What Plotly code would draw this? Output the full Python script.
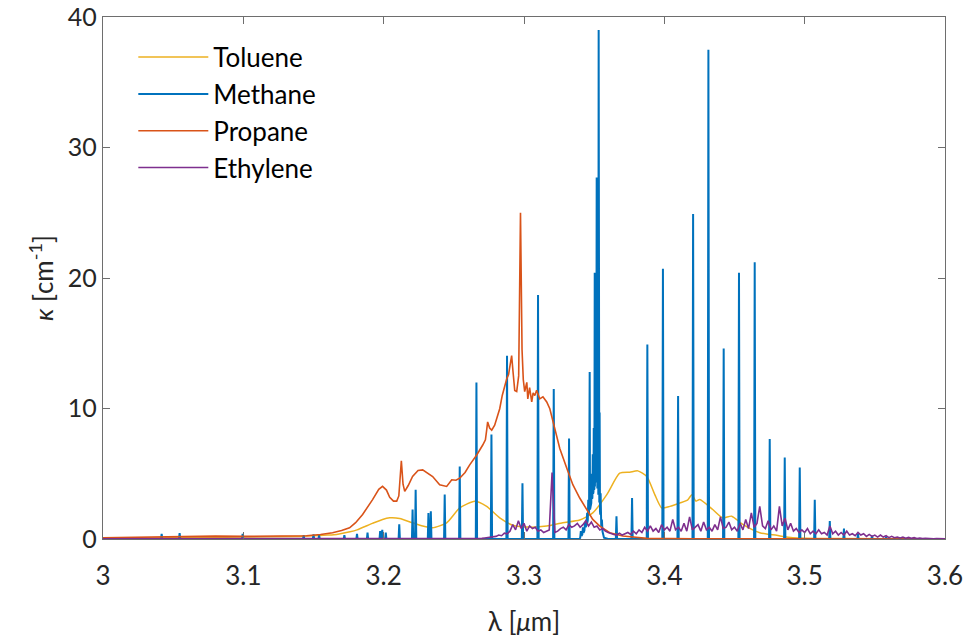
import numpy as np
import plotly.graph_objects as go

# ---------------- absorption spectra (kappa in cm^-1 vs wavelength in um) ----------------

# Toluene: broad, smooth bands
toluene_x = [3.0, 3.05, 3.1, 3.14, 3.16, 3.1665, 3.176, 3.181, 3.192, 3.1992, 3.2043, 3.2114,
             3.2206, 3.2278, 3.2349, 3.2449, 3.2542, 3.2649, 3.2734, 3.2827, 3.292, 3.304,
             3.3162, 3.3276, 3.3397, 3.349, 3.359, 3.3682, 3.3754, 3.3811, 3.3875, 3.3932,
             3.3981, 3.4039, 3.411, 3.4167, 3.4196, 3.4225, 3.4252, 3.4345, 3.4416, 3.448,
             3.4559, 3.468, 3.4801, 3.4915, 3.52, 3.6]
toluene_y = [0.05, 0.1, 0.15, 0.2, 0.3, 0.35, 0.55, 0.7, 1.2, 1.5, 1.62, 1.57,
             1.24, 0.99, 0.86, 1.24, 2.38, 2.89, 2.5, 1.62, 1.06, 0.91,
             0.99, 1.24, 1.45, 2.0, 3.4, 5.04, 5.12, 5.22, 4.79, 3.4,
             2.38, 2.5, 2.76, 3.0, 3.4, 2.9, 3.02, 2.26, 1.62, 1.75,
             1.12, 0.48, 0.28, 0.1, 0.03, 0.0]

# Methane: individual rovibrational lines (centre, peak height)
methane_lines = [
    (3.0418, 0.4), (3.0546, 0.45), (3.0995, 0.4), (3.143, 0.3), (3.150, 0.35),
    (3.154, 0.3), (3.172, 0.3), (3.181, 0.4), (3.1885, 0.5), (3.1975, 0.6),
    (3.199, 0.7), (3.2015, 0.5), (3.2111, 1.12), (3.2206, 2.26), (3.2228, 3.78),
    (3.2319, 2.0), (3.2336, 2.13), (3.2435, 3.4), (3.2542, 5.55), (3.2661, 12.0),
    (3.2768, 8.0), (3.2879, 14.05), (3.2989, 4.28), (3.31, 18.7), (3.3212, 11.5),
    (3.3321, 7.7), (3.3405, 0.6), (3.342, 0.9), (3.3435, 1.3), (3.345, 2.0),
    (3.3458, 3.0), (3.3468, 12.8), (3.3475, 4.2), (3.3483, 5.0), (3.349, 6.5),
    (3.3497, 8.5), (3.3504, 20.4), (3.351, 11.0), (3.3518, 27.7), (3.3525, 16.0),
    (3.3532, 39.0), (3.3539, 9.7), (3.3546, 3.5), (3.3555, 1.5), (3.3659, 1.75),
    (3.377, 3.14), (3.3879, 14.9), (3.399, 20.7), (3.4098, 10.95), (3.4205, 24.9),
    (3.4314, 37.5), (3.4423, 14.6), (3.4532, 20.4), (3.4644, 21.2), (3.4751, 7.66),
    (3.4858, 6.24), (3.4965, 5.48), (3.5072, 3.0), (3.5179, 1.37), (3.528, 0.8),
    (3.538, 0.4), (3.548, 0.25), (3.558, 0.15),
]
# raised background under the Q branch (x, kappa)
methane_q_background = [(3.3395, 0.0), (3.3425, 0.5), (3.345, 1.2), (3.3475, 2.5),
                        (3.3495, 3.6), (3.3515, 4.4), (3.3535, 3.0), (3.355, 1.0),
                        (3.357, 0.1), (3.36, 0.0)]

# Propane: broad band with sharp Q-branch features
propane_x = [3.0, 3.03, 3.057, 3.08, 3.10, 3.12, 3.145, 3.155, 3.1636, 3.17, 3.1757, 3.18,
             3.185, 3.1921, 3.1965, 3.1992, 3.202, 3.2043, 3.207, 3.2093, 3.2108, 3.2126,
             3.2138, 3.215, 3.2175, 3.2206, 3.2245, 3.2278, 3.2315, 3.2349, 3.2399, 3.2449,
             3.2485, 3.2515, 3.2542, 3.258, 3.2613, 3.2663, 3.2706, 3.2725, 3.2734, 3.2741,
             3.2755, 3.277, 3.2791, 3.281, 3.2827, 3.2845, 3.2862, 3.2877, 3.289, 3.2902,
             3.2912, 3.2922, 3.2934, 3.2948, 3.2962, 3.2975, 3.2986, 3.2995, 3.3005, 3.302,
             3.3027, 3.304, 3.3055, 3.3065, 3.3077, 3.309, 3.3112, 3.3135, 3.3162, 3.3184,
             3.3219, 3.3255, 3.3305, 3.3348, 3.3397, 3.3447, 3.349, 3.354, 3.3611, 3.3704,
             3.3875, 3.42, 3.6]
propane_y = [0.1, 0.15, 0.22, 0.22, 0.2, 0.22, 0.25, 0.35, 0.48, 0.65, 0.86, 1.25,
             1.88, 3.02, 3.8, 4.03, 3.75, 3.2, 2.9, 2.9, 3.3, 6.0,
             4.2, 3.65, 4.1, 4.79, 5.25, 5.3, 5.05, 4.79, 4.16, 4.03,
             4.54, 4.5, 4.66, 5.1, 5.68, 6.44, 7.2, 7.6, 8.34, 8.97,
             8.5, 8.34, 8.72, 9.4, 9.98, 11.0, 11.8, 12.27, 12.6, 13.6,
             14.05, 12.8, 11.38, 11.3, 12.5, 25.0, 14.5, 12.2, 11.3, 12.0,
             10.74, 11.6, 10.5, 11.2, 11.0, 11.4, 10.74, 10.9, 10.5, 9.98,
             8.46, 6.94, 5.42, 4.16, 3.14, 2.26, 1.5, 0.99, 0.48, 0.23,
             0.05, 0.02, 0.0]

# Ethylene: low, noisy absorption from 3.27 um onward
ethylene_head_x = [3.0, 3.1, 3.2, 3.26]
ethylene_head_y = [0.02, 0.02, 0.03, 0.04]
ethylene_grid_start, ethylene_grid_step = 3.270, 0.002
ethylene_y = [
    0.05, 0.08, 0.10, 0.12, 0.15, 0.20, 0.30, 0.25, 0.45, 0.40, 0.60,
    1.10, 0.70, 1.40, 0.80, 1.20, 0.60, 1.00, 0.80, 0.90, 0.60,
    0.70, 0.50, 0.60, 0.70, 5.10, 0.50,
    0.60, 0.80, 0.90, 0.70, 1.10, 0.90, 1.00, 1.20, 0.90, 1.10, 1.40, 1.00, 1.30, 0.90,
    1.00, 0.70, 0.80, 0.60, 0.50,
    0.40, 0.35, 0.30, 0.45, 0.30, 0.40, 0.50, 0.35, 0.60, 0.40,
    0.70, 0.50, 0.90, 0.60, 1.00, 0.60, 0.80, 0.50, 1.10, 0.70,
    0.90, 0.60, 1.50, 0.70, 0.90, 0.60, 1.20, 0.60, 1.70, 0.70,
    0.90, 1.10, 0.60, 1.30, 0.70, 0.90, 0.60, 1.10, 0.70, 1.70,
    0.80, 0.90, 1.30, 0.70, 0.90, 0.60, 1.20, 0.70, 1.50, 0.80,
    2.00, 0.90, 1.20, 2.50, 1.00, 0.80, 1.40, 0.70, 1.00, 0.60,
    2.50, 1.00, 1.60, 0.70, 1.20, 0.60, 0.80, 0.50, 0.70, 0.50,
    0.80, 0.40, 0.60, 0.40, 0.70, 0.40, 0.50, 0.30, 1.00, 0.40,
    0.60, 0.30, 0.50, 0.30, 0.60, 0.30, 0.40, 0.25, 0.50, 0.30,
    0.40, 0.20, 0.35, 0.20, 0.30, 0.15, 0.30, 0.15, 0.25, 0.10,
    0.20, 0.10, 0.15, 0.08, 0.15, 0.06, 0.12, 0.05, 0.10, 0.04,
    0.08, 0.03, 0.06, 0.03, 0.05, 0.02, 0.04, 0.02, 0.03, 0.02,
]

x_ticks = [3.0, 3.1, 3.2, 3.3, 3.4, 3.5, 3.6]
x_tick_labels = ["3", "3.1", "3.2", "3.3", "3.4", "3.5", "3.6"]
y_ticks = [0, 10, 20, 30, 40]

# ---------------- assemble traces ----------------
HALF_WIDTH = 0.00045  # half-width of each drawn methane line (um)

def stick_spectrum(lines, background, x_min=3.0, x_max=3.6):
    """Turn a line list into a polyline, sitting on an optional background."""
    bx = [p[0] for p in background]
    by = [p[1] for p in background]
    pts = [(x_min, 0.0), (x_max, 0.0)]
    for c, h in lines:
        base_l = float(np.interp(c - HALF_WIDTH, bx, by, left=0, right=0))
        base_r = float(np.interp(c + HALF_WIDTH, bx, by, left=0, right=0))
        pts += [(c - HALF_WIDTH, base_l), (c, h), (c + HALF_WIDTH, base_r)]
    pts += background
    pts.sort(key=lambda p: p[0])
    return [p[0] for p in pts], [p[1] for p in pts]

methane_x, methane_y = stick_spectrum(methane_lines, methane_q_background)

ethylene_grid = [round(ethylene_grid_start + i * ethylene_grid_step, 4)
                 for i in range(len(ethylene_y))]
eth_x = ethylene_head_x + ethylene_grid
eth_y = ethylene_head_y + ethylene_y

C_TOL = "#EDB120"
C_MET = "#0072BD"
C_PRO = "#D95319"
C_ETH = "#7E2F8E"

fig = go.Figure()
fig.add_trace(go.Scatter(x=toluene_x, y=toluene_y, mode="lines", name="Toluene",
                         line=dict(color=C_TOL, width=1.5, shape="spline", smoothing=0.6)))
fig.add_trace(go.Scatter(x=methane_x, y=methane_y, mode="lines", name="Methane",
                         line=dict(color=C_MET, width=2.0)))
fig.add_trace(go.Scatter(x=propane_x, y=propane_y, mode="lines", name="Propane",
                         line=dict(color=C_PRO, width=1.6)))
fig.add_trace(go.Scatter(x=eth_x, y=eth_y, mode="lines", name="Ethylene",
                         line=dict(color=C_ETH, width=1.6)))

AX_COLOR = "#6e6e6e"
TICK_FONT = dict(family="Lato, 'Open Sans', sans-serif", size=26, color="#262626")
Y_TICK_FONT = dict(family="Lato, 'Open Sans', sans-serif", size=25, color="#262626")

fig.update_layout(
    width=966, height=637,
    margin=dict(l=103, r=21, t=17, b=98),
    paper_bgcolor="white", plot_bgcolor="white",
    showlegend=True,
    legend=dict(x=0.036, y=0.968, xanchor="left", yanchor="top",
                bgcolor="rgba(0,0,0,0)", borderwidth=0,
                font=dict(family="Lato, 'Open Sans', sans-serif", size=26, color="#000000"),
                itemwidth=70),
    xaxis=dict(range=[3.0, 3.6], tickmode="array", tickvals=x_ticks, ticktext=x_tick_labels,
               ticks="inside", ticklen=7, tickwidth=1.2, tickcolor=AX_COLOR,
               showline=True, linecolor=AX_COLOR, linewidth=1.4, mirror="ticks",
               showgrid=False, zeroline=False, tickfont=TICK_FONT,
               automargin=False, ticklabelstandoff=14, ticklabeloverflow="allow",
               title=dict(text="λ [<i>μ</i>m]", font=TICK_FONT, standoff=26)),
    yaxis=dict(range=[0, 40], tickmode="array", tickvals=y_ticks,
               ticks="inside", ticklen=7, tickwidth=1.2, tickcolor=AX_COLOR,
               showline=True, linecolor=AX_COLOR, linewidth=1.4, mirror="ticks",
               showgrid=False, zeroline=False, tickfont=Y_TICK_FONT,
               automargin=False, ticklabeloverflow="allow",
               title=dict(text="<i>κ</i> [cm<sup>-1</sup>]", font=TICK_FONT, standoff=6)),
)

fig.write_html("out.html")
